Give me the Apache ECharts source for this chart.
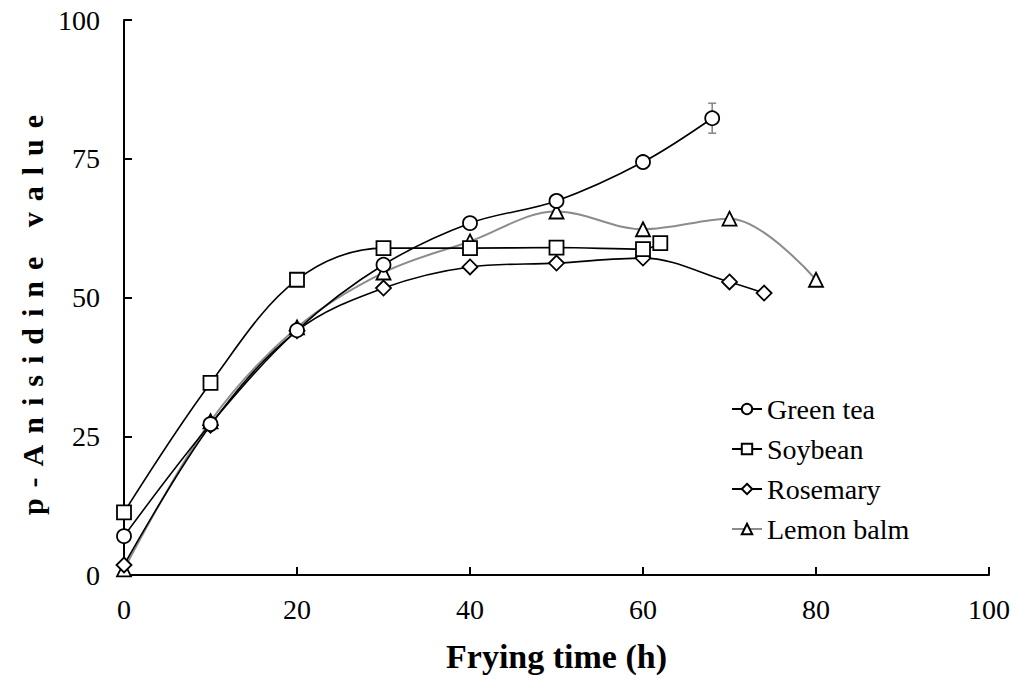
<!DOCTYPE html>
<html><head><meta charset="utf-8">
<script src="https://cdn.jsdelivr.net/npm/echarts@6/dist/echarts.min.js"></script>
<style>html,body{margin:0;padding:0;background:#fff}#c{width:1016px;height:681px}#c text{font-family:'Liberation Serif','Times New Roman',serif !important}</style>
</head><body><div id="c"></div>
<script>
// ---- data ----
const seriesNames = ['Green tea', 'Soybean', 'Rosemary', 'Lemon balm'];
const greenTeaX = [0, 10, 20, 30, 40, 50, 60, 68];
const greenTeaY = [7.0, 27.2, 44.1, 55.9, 63.4, 67.4, 74.4, 82.3];
const greenTeaErr = [0, 0, 0, 0, 0, 0, 0, 2.7];
const soybeanX = [0, 10, 20, 30, 40, 50, 60, 62];
const soybeanY = [11.3, 34.6, 53.2, 58.9, 58.9, 59.0, 58.7, 59.8];
const soybeanErr = [0, 0, 0, 0, 0, 0, 1.0, 0];
const rosemaryX = [0, 10, 20, 30, 40, 50, 60, 70, 74];
const rosemaryY = [1.8, 27.0, 44.0, 51.7, 55.5, 56.2, 57.1, 52.8, 50.8];
const lemonX = [0, 10, 20, 30, 40, 50, 60, 70, 80];
const lemonY = [1.0, 27.7, 44.6, 54.5, 60.1, 65.5, 62.3, 64.2, 53.2];
const xTickLabels = ['0', '20', '40', '60', '80', '100'];
const yTickLabels = ['0', '25', '50', '75', '100'];
const xTitle = 'Frying time (h)';
const yTitle = 'p-Anisidine value';

// ---- build ----
const pairs = (xs, ys) => xs.map((x, i) => [x, ys[i]]);
const errData = (xs, ys, es) => xs.map((x, i) => [x, ys[i], es[i]]).filter(d => d[2] > 0);
const serif = "'Liberation Serif', serif";

function lineSeries(name, data, symbol, lineColor, lineWidth) {
  return {
    type: 'line', name, data, smooth: 0.35,
    symbol, symbolSize: symbol === 'diamond' ? 15 : 14,
    lineStyle: { color: lineColor, width: lineWidth },
    itemStyle: { color: '#fff', borderColor: '#000', borderWidth: 1.8 },
    z: 3
  };
}
function errSeries(data) {
  return {
    type: 'custom', data, silent: true, z: 2,
    encode: { x: 0, y: 1 },
    renderItem: (params, api) => {
      const x = api.value(0), y = api.value(1), e = api.value(2);
      const t = api.coord([x, y + e]), b = api.coord([x, y - e]);
      const cap = 4, st = { stroke: '#8a8a8a', lineWidth: 1.6 };
      return { type: 'group', children: [
        { type: 'line', shape: { x1: t[0], y1: t[1], x2: b[0], y2: b[1] }, style: st },
        { type: 'line', shape: { x1: t[0] - cap, y1: t[1], x2: t[0] + cap, y2: t[1] }, style: st },
        { type: 'line', shape: { x1: b[0] - cap, y1: b[1], x2: b[0] + cap, y2: b[1] }, style: st }
      ]};
    }
  };
}

const chart = echarts.init(document.getElementById('c'), null, { renderer: 'svg' });
chart.setOption({
  animation: false,
  backgroundColor: '#fff',
  textStyle: { fontFamily: serif },
  grid: { left: 124, right: 27, top: 20, bottom: 106 },
  legend: {
    data: seriesNames, orient: 'vertical', left: 726, top: 390,
    itemWidth: 30, itemHeight: 13, itemGap: 12,
    textStyle: { fontFamily: serif, fontSize: 28, color: '#000', lineHeight: 28 }
  },
  xAxis: {
    type: 'value', min: 0, max: 100, interval: 20,
    name: xTitle, nameLocation: 'middle', nameGap: 64,
    nameTextStyle: { fontFamily: serif, fontSize: 34, fontWeight: 'bold', color: '#000' },
    axisLine: { lineStyle: { color: '#000', width: 2 } },
    axisTick: { inside: true, length: 8, lineStyle: { color: '#000', width: 2 } },
    axisLabel: { fontFamily: serif, fontSize: 28, color: '#000', margin: 20,
      formatter: (v) => xTickLabels[Math.round(v / 20)] },
    splitLine: { show: false }
  },
  yAxis: {
    type: 'value', min: 0, max: 100, interval: 25,
    name: yTitle, nameLocation: 'middle', nameGap: 72,
    nameTextStyle: { fontFamily: serif, fontSize: 30, fontWeight: 'bold', color: '#000',
      padding: [0, 24, 0, 0] },
    axisLine: { show: true, lineStyle: { color: '#000', width: 2 } },
    axisTick: { show: true, inside: true, length: 8, lineStyle: { color: '#000', width: 2 } },
    axisLabel: { fontFamily: serif, fontSize: 28, color: '#000', margin: 24,
      formatter: (v) => yTickLabels[Math.round(v / 25)] },
    splitLine: { show: false }
  },
  series: [
    errSeries(errData(greenTeaX, greenTeaY, greenTeaErr)),
    errSeries(errData(soybeanX, soybeanY, soybeanErr)),
    lineSeries(seriesNames[3], pairs(lemonX, lemonY), 'triangle', '#8c8c8c', 2),
    lineSeries(seriesNames[2], pairs(rosemaryX, rosemaryY), 'diamond', '#000', 1.6),
    lineSeries(seriesNames[1], pairs(soybeanX, soybeanY), 'rect', '#000', 1.6),
    lineSeries(seriesNames[0], pairs(greenTeaX, greenTeaY), 'circle', '#000', 1.6)
  ]
});
function spaceTitle() {
  document.querySelectorAll('#c text').forEach(t => {
    if (t.textContent === yTitle) t.setAttribute('letter-spacing', '11');
  });
}
chart.on('finished', spaceTitle);
spaceTitle();
setTimeout(spaceTitle, 50);
</script></body></html>
